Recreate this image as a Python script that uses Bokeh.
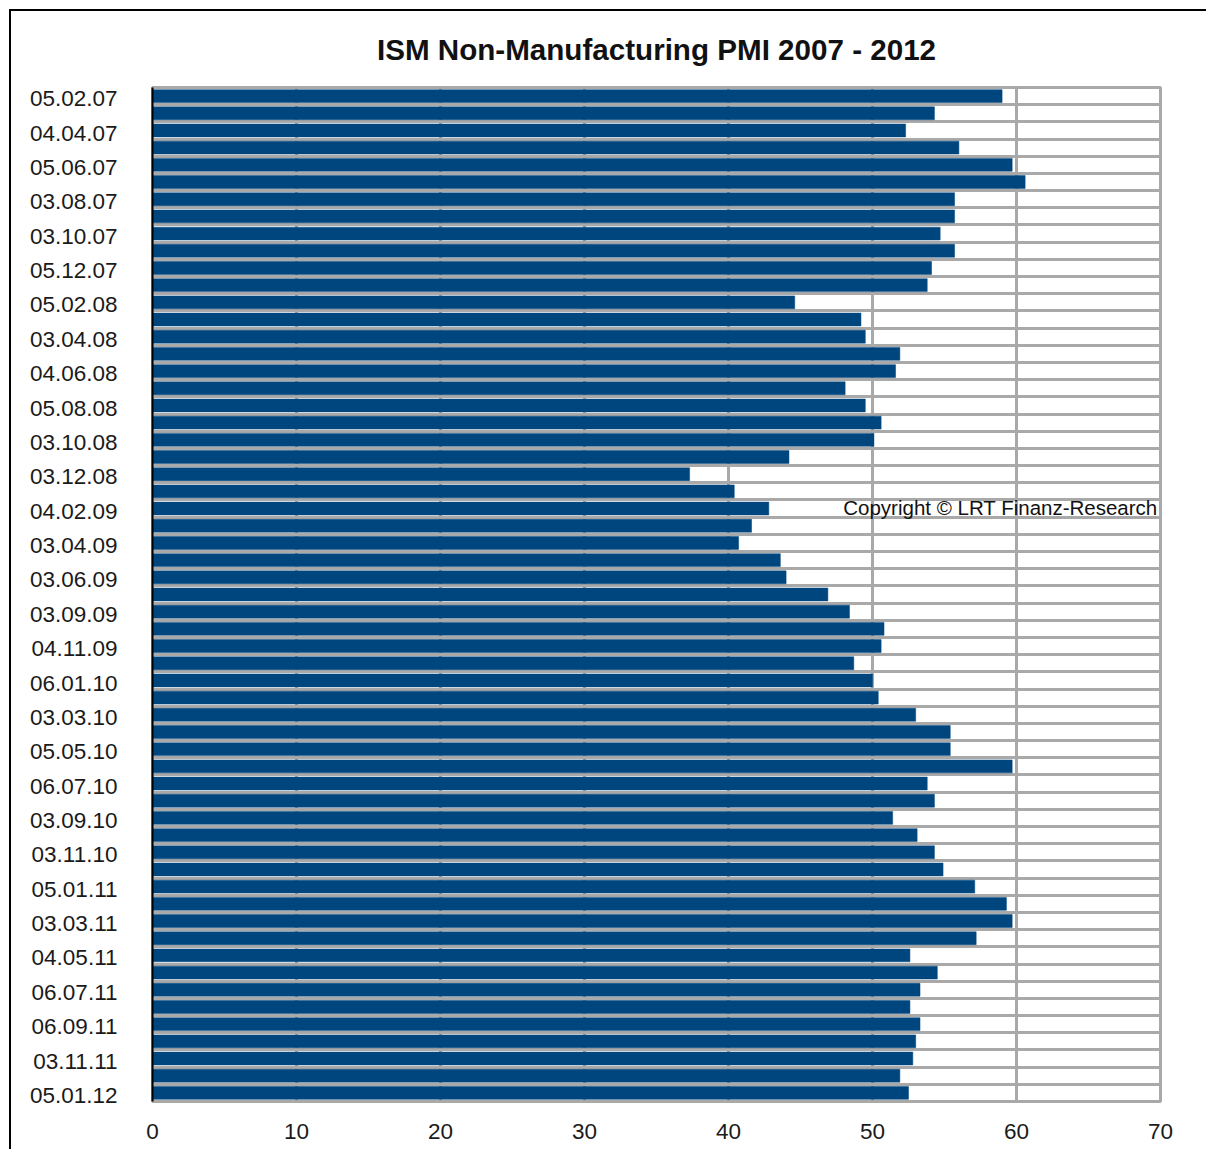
from bokeh.plotting import figure
from bokeh.models import Range1d, FixedTicker, ColumnDataSource
from bokeh.core.properties import value
from bokeh.embed import file_html
from bokeh.resources import INLINE

# ISM Non-Manufacturing PMI, monthly releases Feb 2007 - Jan 2012 (top to bottom)
pmi_values = [
    59.0, 54.3, 52.3, 56.0, 59.7, 60.6, 55.7, 55.7, 54.7, 55.7,
    54.1, 53.8, 44.6, 49.2, 49.5, 51.9, 51.6, 48.1, 49.5, 50.6,
    50.1, 44.2, 37.3, 40.4, 42.8, 41.6, 40.7, 43.6, 44.0, 46.9,
    48.4, 50.8, 50.6, 48.7, 50.0, 50.4, 53.0, 55.4, 55.4, 59.7,
    53.8, 54.3, 51.4, 53.1, 54.3, 54.9, 57.1, 59.3, 59.7, 57.2,
    52.6, 54.5, 53.3, 52.6, 53.3, 53.0, 52.8, 51.9, 52.5,
]

# release dates shown on the axis (every second bar)
tick_labels = [
    "05.02.07", "04.04.07", "05.06.07", "03.08.07", "03.10.07", "05.12.07",
    "05.02.08", "03.04.08", "04.06.08", "05.08.08", "03.10.08", "03.12.08",
    "04.02.09", "03.04.09", "03.06.09", "03.09.09", "04.11.09", "06.01.10",
    "03.03.10", "05.05.10", "06.07.10", "03.09.10", "03.11.10", "05.01.11",
    "03.03.11", "04.05.11", "06.07.11", "06.09.11", "03.11.11", "05.01.12",
]

x_ticks = [0, 10, 20, 30, 40, 50, 60, 70]
title_text = "ISM Non-Manufacturing PMI 2007 - 2012"
copyright_text = "Copyright \u00a9 LRT Finanz-Research"

n = len(pmi_values)
centers = [i + 0.5 for i in range(n)]
src = ColumnDataSource(dict(y=centers, v=pmi_values))

FONT = "Liberation Sans"
GRID = "#a9a9a9"
BAR = "#00467e"

p = figure(
    width=1197, height=1140,
    output_backend="svg", toolbar_location=None,
    x_range=Range1d(0, 70), y_range=Range1d(n, 0),
    min_border_left=141, min_border_right=48,
    min_border_top=76, min_border_bottom=50,
    title=title_text,
)
p.styles = {"margin-top": "9px", "margin-left": "9px",
            "border-top": "2px solid black", "border-left": "2px solid black"}

p.title.align = "center"
p.title.vertical_align = "top"
p.title.text_font = FONT
p.title.text_font_size = "29.6px"
p.title.text_font_style = "bold"
p.title.text_color = "#111111"
p.title.standoff = 40

p.outline_line_color = GRID
p.outline_line_width = 3
p.background_fill_color = "white"
p.border_fill_color = "white"

# grids
p.xgrid.ticker = FixedTicker(ticks=x_ticks)
p.xgrid.grid_line_color = GRID
p.xgrid.grid_line_width = 3
p.ygrid.ticker = FixedTicker(ticks=list(range(n + 1)))
p.ygrid.grid_line_color = GRID
p.ygrid.grid_line_width = 3

# x axis
p.xaxis.ticker = FixedTicker(ticks=x_ticks)
p.xaxis.axis_line_color = None
p.xaxis.major_tick_line_color = None
p.xaxis.minor_tick_line_color = None
p.xaxis.major_label_text_font = FONT
p.xaxis.major_label_text_font_size = "22.5px"
p.xaxis.major_label_text_color = "#1a1a1a"
p.xaxis.major_label_standoff = 16

# y axis
label_pos = [2 * k + 0.65 for k in range(len(tick_labels))]
p.yaxis.ticker = FixedTicker(ticks=label_pos)
p.yaxis.major_label_overrides = {pos: lab for pos, lab in zip(label_pos, tick_labels)}
p.yaxis.axis_line_color = "black"
p.yaxis.axis_line_width = 2
p.yaxis.major_tick_line_color = None
p.yaxis.minor_tick_line_color = None
p.yaxis.major_label_text_font = FONT
p.yaxis.major_label_text_font_size = "22.5px"
p.yaxis.major_label_text_color = "#1a1a1a"
p.yaxis.major_label_standoff = 29

p.hbar(y="y", right="v", left=0, height=0.75, source=src,
       fill_color=BAR, line_color=BAR, line_width=0.5)

p.text(x=[69.8], y=[24.43], text=[copyright_text], text_align="right",
       text_baseline="middle", text_font=value(FONT), text_font_size="20.5px",
       text_color="#111111")

open("out.html", "w").write(file_html(p, INLINE))
